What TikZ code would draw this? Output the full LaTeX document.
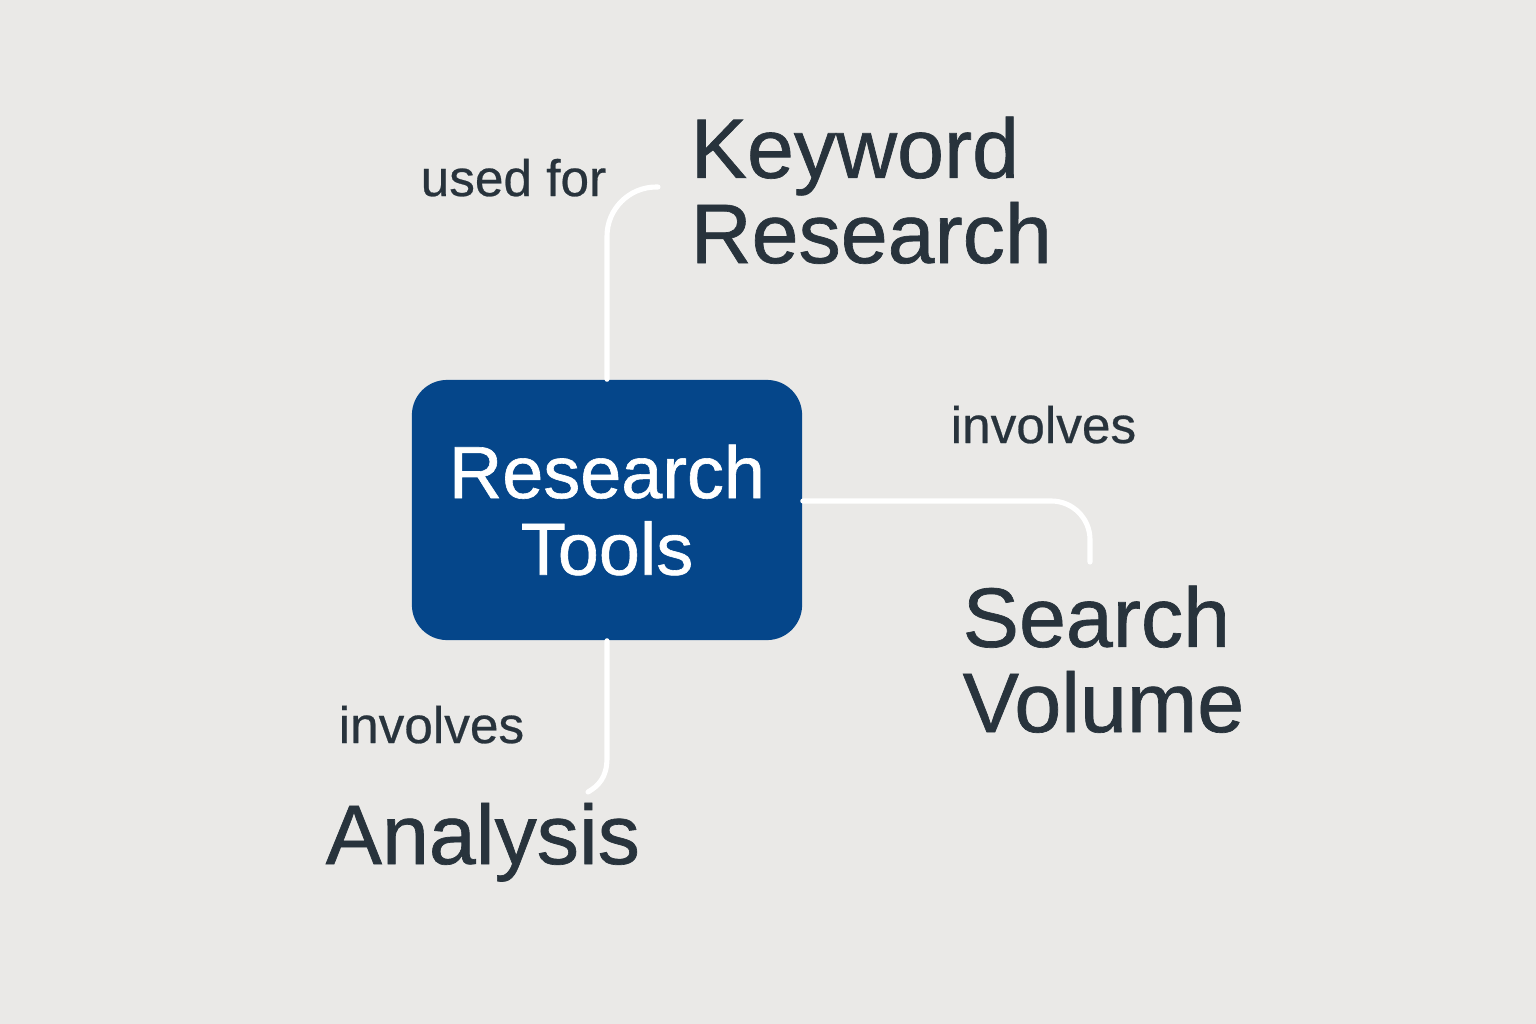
\documentclass[tikz,border=0pt]{standalone}
\usepackage{fontspec}
\setmainfont{Liberation Sans}
\newfontfamily\medfont[FakeBold=0.8]{Liberation Sans}
\newfontfamily\labfont[FakeBold=0.5]{Liberation Sans}
\usetikzlibrary{calc}
\definecolor{bgc}{HTML}{EAE9E7}
\definecolor{boxc}{HTML}{05468A}
\definecolor{txtc}{HTML}{28333C}
\tikzset{
  bigtext/.style={font=\medfont\fontsize{24pt}{24.2pt}\selectfont, text=txtc, inner sep=0pt, align=left, anchor=base west},
  labtext/.style={font=\labfont\fontsize{14.6pt}{14.6pt}\selectfont, text=txtc, inner sep=0pt, anchor=base west},
  conn/.style={draw=white, line width=1.45pt, line cap=round},
}
\begin{document}
\begin{tikzpicture}[x=0.01cm, y=-0.01cm]
\fill[bgc] (0,0) rectangle (1536,1024);
\useasboundingbox (0,0) rectangle (1536,1024);
% connectors
\coordinate (kwend) at (658,187);
\coordinate (svend) at (1090,562);
\coordinate (anend) at (588,792);
\node[fill=boxc, rounded corners=10pt, minimum width=3.9cm, minimum height=2.6cm, inner sep=0pt,
      text=white, align=center, font=\medfont\fontsize{21pt}{21.8pt}\selectfont] (box) at (607,510) {Research\\Tools};
\draw[conn, rounded corners=14pt] (box.north) |- (kwend);
\draw[conn, rounded corners=11pt] ($(box.east)+(0,-9)$) -| (svend);
\draw[conn] (box.south) -- (607,758) .. controls (607,778) and (598,786) .. (anend);
% labels
\node[labtext] (usedfor) at (420,196) {used for};
\node[labtext] (inv1) at (950,443) {involves};
\node[labtext] (inv2) at (338,743) {involves};
% concepts
\node[bigtext] (kw) at (690,263) {Keyword\\Research};
\node[bigtext] (sv) at (962,732) {Search\\Volume};
\node[bigtext] (an) at (325,864) {Analysis};
\end{tikzpicture}
\end{document}
